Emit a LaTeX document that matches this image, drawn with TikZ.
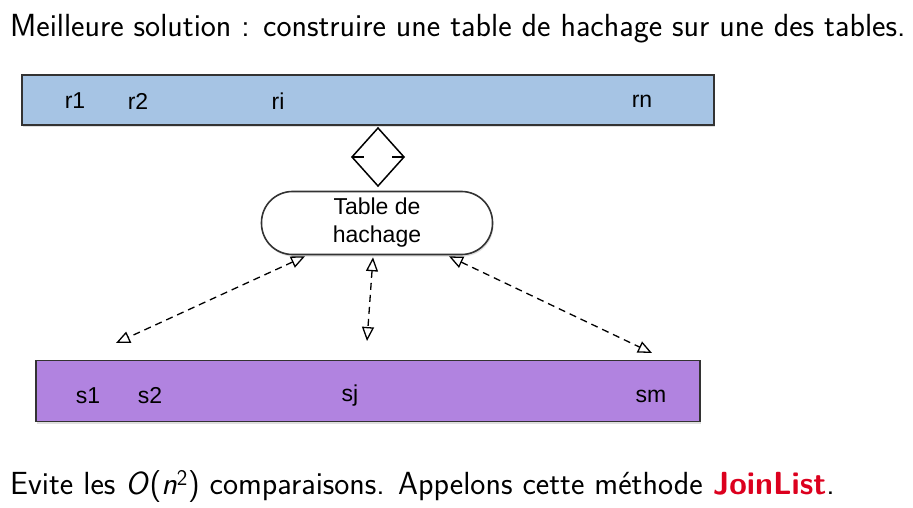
\documentclass[tikz,border=0pt]{standalone}
\usepackage{fontspec}
\newfontfamily\figfont{Liberation Sans}
\usetikzlibrary{positioning,calc,arrows.meta,shadows}
\definecolor{barblue}{RGB}{166,196,228}
\definecolor{barpurple}{RGB}{177,131,224}
\definecolor{joinred}{RGB}{220,0,30}
\newcommand*{\figsize}{\figfont\fontsize{23}{28}\selectfont}

\begin{document}
\begin{tikzpicture}[x=1pt,y=-1pt,
    lbl/.style={font=\figsize},
    bar/.style={draw=black!80,line width=1.6pt,drop shadow={opacity=0.25,shadow xshift=1pt,shadow yshift=-2pt}},
    link/.style={line width=1.3pt,dash pattern=on 7pt off 5pt,{Triangle[open,length=14pt,width=12pt]}-{Triangle[open,length=14pt,width=12pt]}}]
\useasboundingbox (0,0) rectangle (913,508);
% Title line
\node[anchor=west,inner sep=0pt] (title) at (10,29)
  {\sffamily\fontsize{32}{38}\selectfont Meilleure solution : construire une table de hachage sur une des tables.};
% Top table r
\node[bar,fill=barblue,minimum width=692,minimum height=50,inner sep=0pt] (R) at (368,100) {};
\node[lbl] (r1) at (75,101) {r1};
\node[lbl] (r2) at (138,101) {r2};
\node[lbl] (ri) at (278,101) {ri};
\node[lbl] (rn) at (642,101) {rn};
% Diamond under the top table
\coordinate (dtop) at (378,128);
\draw[line width=1.5pt,fill=white] (dtop) -- (404,157) -- (378,186) -- (352,157) -- cycle;
\draw[line width=1.3pt] (352,157) -- (364,157);
\draw[line width=1.3pt] (392,157) -- (404,157);
% Hash table
\node[bar,lbl,fill=white,rounded corners=31pt,minimum width=231,minimum height=63,inner sep=0pt,
  align=center] (H) at (377,223) {Table de\\hachage};
% Bottom table s
\node[bar,fill=barpurple,minimum width=664,minimum height=61,inner sep=0pt] (S) at (368,391) {};
\node[lbl] (s1) at (88,396) {s1};
\node[lbl] (s2) at (150,396) {s2};
\node[lbl] (sj) at (350,396) {sj};
\node[lbl] (sm) at (651,396) {sm};
% Free ends of the links
\coordinate (e1) at (116,343);
\coordinate (e2) at (367,341);
\coordinate (e3) at (652,353);
\draw[link] ($(H.south)+(-72,1)$) -- (e1);
\draw[link] ($(H.south)+(-4,2)$) -- (e2);
\draw[link] ($(H.south)+(72,1)$) -- (e3);
% Closing line
\node[anchor=west,inner sep=0pt] (note) at (10,486)
  {\sffamily\fontsize{32}{38}\selectfont Evite les \textit{O}(\textit{n}\textsuperscript{2}) comparaisons. Appelons cette méthode {\bfseries\color{joinred}JoinList}.};
\end{tikzpicture}
\end{document}
